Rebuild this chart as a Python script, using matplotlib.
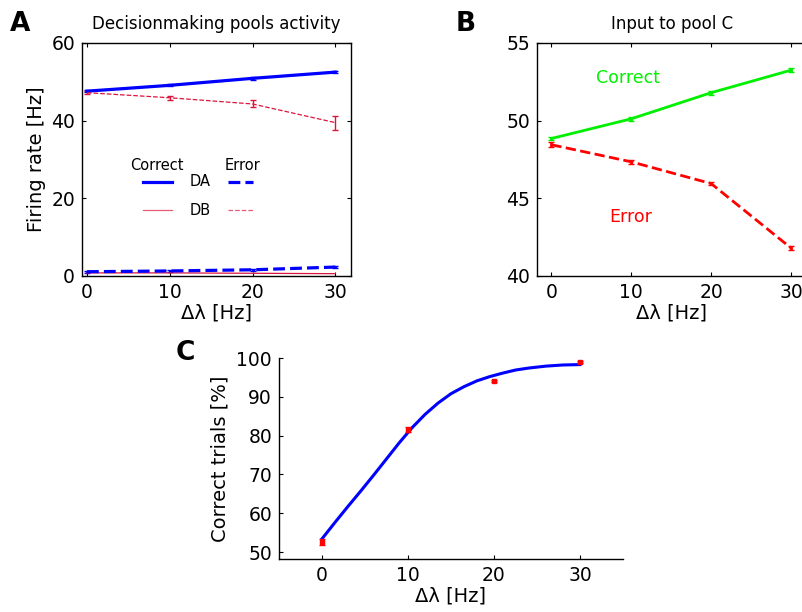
import numpy as np
import matplotlib
matplotlib.use('Agg')
import matplotlib.pyplot as plt
from matplotlib.lines import Line2D

plt.rcParams['font.family'] = ['DejaVu Sans']

# Datos
dl = np.array([0, 10, 20, 30])

# Panel A: actividad de los pools de decision
da_correct = np.array([47.6, 49.1, 50.9, 52.5])
da_correct_err = np.array([0.3, 0.3, 0.3, 0.3])
db_error = np.array([47.2, 45.9, 44.3, 39.5])
db_error_err = np.array([0.4, 0.5, 0.9, 1.8])
da_error = np.array([1.1, 1.3, 1.6, 2.3])
da_error_err = np.array([0.2, 0.2, 0.2, 0.3])
db_correct = np.array([0.8, 0.8, 0.7, 0.6])

# Panel B: entrada al pool C
c_correct = np.array([48.85, 50.12, 51.8, 53.25])
c_correct_err = np.array([0.12, 0.12, 0.12, 0.12])
c_error = np.array([48.45, 47.35, 45.95, 41.8])
c_error_err = np.array([0.15, 0.12, 0.12, 0.1])

# Panel C: ensayos correctos + curva ajustada (leida punto a punto)
pc = np.array([52.6, 81.5, 94.1, 99.0])
pc_err = np.array([0.8, 0.6, 0.3, 0.3])
fit_x = np.array([0, 1.5, 3, 4.5, 6, 7.5, 9, 10.5, 12, 13.5, 15, 16.5, 18,
                  19.5, 21, 22.5, 24, 26, 28, 30])
fit_y = np.array([53.4, 57.6, 61.7, 65.7, 69.8, 74.0, 78.2, 82.1, 85.5, 88.4,
                  90.8, 92.6, 94.1, 95.2, 96.1, 96.9, 97.4, 97.9, 98.2, 98.3])

blue = '#0000ff'
crimson = '#dc143c'
green = '#00f000'
red = '#ff0000'
W, H = 803, 612

fig = plt.figure(figsize=(W / 100, H / 100), dpi=100)


def px_axes(l, t, r, b):
    return fig.add_axes([l / W, 1 - b / H, (r - l) / W, (b - t) / H])


def style(ax, box=True):
    ax.tick_params(direction='in', length=3, width=0.8, labelsize=13.5, pad=5,
                   top=box, right=box)
    for s in ax.spines.values():
        s.set_linewidth(1.0)
    if not box:
        ax.spines['top'].set_visible(False)
        ax.spines['right'].set_visible(False)


# ---- Panel A
axA = px_axes(82, 43, 351, 276)
axA.errorbar(dl, da_correct, yerr=da_correct_err, color=blue, lw=2.3, capsize=2)
axA.errorbar(dl, db_error, yerr=db_error_err, color=crimson, lw=0.9, ls='--',
             capsize=2, elinewidth=1)
axA.errorbar(dl, da_error, yerr=da_error_err, color=blue, lw=2.3, ls='--', capsize=2)
axA.plot(dl, db_correct, color=crimson, lw=0.9)
axA.set_xlim(-0.6, 31.9)
axA.set_ylim(0, 60)
axA.set_xticks([0, 10, 20, 30])
axA.set_yticks([0, 20, 40, 60])
style(axA)
axA.set_xlabel('Δλ [Hz]', fontsize=14, labelpad=1)
axA.set_ylabel('Firing rate [Hz]', fontsize=14, labelpad=4)
axA.set_title('Decisionmaking pools activity', fontsize=12, pad=10)

# leyenda hecha a mano
tr = axA.transAxes
axA.text(0.279, 0.476, 'Correct', transform=tr, ha='center', va='center', fontsize=10.5)
axA.text(0.595, 0.476, 'Error', transform=tr, ha='center', va='center', fontsize=10.5)
axA.text(0.44, 0.405, 'DA', transform=tr, ha='center', va='center', fontsize=10.5)
axA.text(0.44, 0.283, 'DB', transform=tr, ha='center', va='center', fontsize=10.5)
axA.add_line(Line2D([0.227, 0.335], [0.405, 0.405], transform=tr, color=blue, lw=2.3))
axA.add_line(Line2D([0.543, 0.636], [0.405, 0.405], transform=tr, color=blue, lw=2.3, ls='--'))
axA.add_line(Line2D([0.227, 0.335], [0.283, 0.283], transform=tr, color=crimson, lw=0.9, alpha=0.7))
axA.add_line(Line2D([0.543, 0.636], [0.283, 0.283], transform=tr, color=crimson, lw=0.9, ls='--', alpha=0.7))

# ---- Panel B
axB = px_axes(537, 43, 807, 276)
axB.errorbar(dl, c_correct, yerr=c_correct_err, color=green, lw=2, capsize=2)
axB.errorbar(dl, c_error, yerr=c_error_err, color=red, lw=2, ls='--', capsize=2)
axB.set_xlim(-1.8, 32)
axB.set_ylim(40, 55)
axB.set_xticks([0, 10, 20, 30])
axB.set_yticks([40, 45, 50, 55])
style(axB)
axB.set_xlabel('Δλ [Hz]', fontsize=14, labelpad=1)
axB.set_title('Input to pool C', fontsize=12, pad=10)
axB.text(9.6, 52.75, 'Correct', color=green, ha='center', va='center', fontsize=12.5)
axB.text(9.9, 43.8, 'Error', color=red, ha='center', va='center', fontsize=12.5)

# ---- Panel C
axC = px_axes(279, 358, 623, 559)
axC.plot(fit_x, fit_y, color=blue, lw=2.2)
axC.errorbar(dl, pc, yerr=pc_err, color=red, ls='none', marker='s', ms=3.5,
             capsize=2, elinewidth=1.5)
axC.set_xlim(-5, 35)
axC.set_ylim(48.2, 100)
axC.set_xticks([0, 10, 20, 30])
axC.set_yticks([50, 60, 70, 80, 90, 100])
style(axC, box=False)
axC.set_xlabel('Δλ [Hz]', fontsize=14, labelpad=1)
axC.set_ylabel('Correct trials [%]', fontsize=14, labelpad=5)

# letras de los paneles
fig.text(10 / W, 1 - 24 / H, 'A', fontsize=19, fontweight='bold', va='center')
fig.text(456 / W, 1 - 24 / H, 'B', fontsize=19, fontweight='bold', va='center')
fig.text(176 / W, 1 - 353 / H, 'C', fontsize=19, fontweight='bold', va='center')

fig.savefig('out.png', dpi=100)
